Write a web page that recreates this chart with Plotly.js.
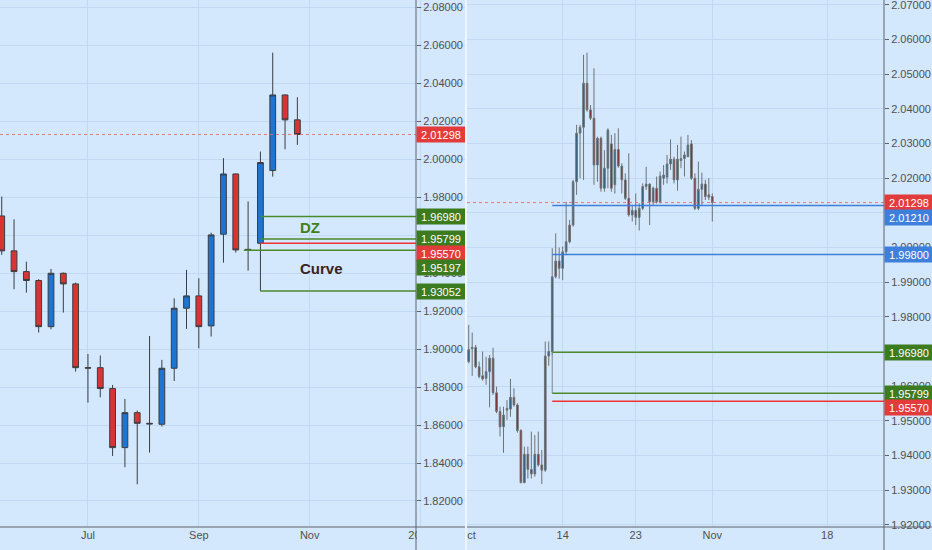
<!DOCTYPE html>
<html>
<head>
<meta charset="UTF-8">
<title>GBPNZD</title>
<script src="https://cdn.plot.ly/plotly-3.0.1.min.js"></script>
<style>
  body { margin: 0; background: #eef5fd; }
  #weekly { position: absolute; left: 0; top: 0; width: 465px; height: 550px; overflow: hidden; }
  #intraday { position: absolute; left: 467px; top: 0; width: 465px; height: 550px; overflow: hidden; }
</style>
</head>
<body>
<div id="weekly"></div>
<div id="intraday"></div>
<script>
// ---- weekly candles (index 0 = week of 13 May 2019)
var wkOpen  = [1.9701, 1.9517, 1.9408, 1.9361, 1.9118, 1.9399, 1.9343, 1.8902, 1.8902, 1.8792, 1.8481, 1.8665, 1.8609,
               1.8604, 1.8899, 1.9215, 1.9280, 1.9122, 1.9605, 1.9922, 1.9525, 1.9557, 1.9940, 2.0338, 2.0207];
var wkHigh  = [1.9803, 1.9683, 1.9460, 1.9368, 1.9422, 1.9403, 1.9350, 1.8974, 1.8966, 1.8811, 1.8737, 1.8676, 1.9069,
               1.8943, 1.9267, 1.9417, 1.9373, 1.9613, 2.0005, 1.9925, 1.9777, 2.0040, 2.0561, 2.0340, 2.0326];
var wkLow   = [1.9496, 1.9315, 1.9297, 1.9087, 1.9104, 1.9192, 1.8881, 1.8718, 1.8746, 1.8437, 1.8378, 1.8288, 1.8455,
               1.8592, 1.8832, 1.9106, 1.9004, 1.9066, 1.9455, 1.9508, 1.9413, 1.9305, 1.9908, 2.0052, 2.0075];
var wkClose = [1.9517, 1.9408, 1.9361, 1.9118, 1.9399, 1.9343, 1.8902, 1.8900, 1.8792, 1.8481, 1.8665, 1.8609, 1.8606,
               1.8899, 1.9215, 1.9280, 1.9118, 1.9601, 1.9922, 1.9522, 1.9520, 1.9982, 2.0338, 2.0207, 2.01298];
var wkTickVals = [7, 16, 25, 34];
var wkTickText = ['Jul', 'Sep', 'Nov', '2020'];

// ---- 8h candles (index 0 = 1 Oct 2019)
var hOpen  = [1.9671, 1.9708, 1.9712, 1.9656, 1.9630, 1.9623, 1.9642, 1.9681, 1.9581, 1.9527, 1.9483, 1.9531,
              1.9534, 1.9568, 1.9546, 1.9472, 1.9322, 1.9404, 1.9360, 1.9347, 1.9404, 1.9373, 1.9358, 1.9687,
              1.9700, 1.9916, 1.9961, 1.9940, 1.9988, 2.0017, 2.0065, 2.0190, 2.0330, 2.0347, 2.0474, 2.0397,
              2.0373, 2.0238, 2.0315, 2.0171, 2.0229, 2.0299, 2.0181, 2.0283, 2.0235, 2.0195, 2.0142, 2.0094,
              2.0107, 2.0087, 2.0113, 2.0176, 2.0183, 2.0132, 2.0171, 2.0132, 2.0200, 2.0203, 2.0241, 2.0255,
              2.0195, 2.0251, 2.0257, 2.0262, 2.0299, 2.0200, 2.0113, 2.0168, 2.0183, 2.0152, 2.0147];
var hHigh  = [1.9777, 1.9755, 1.9719, 1.9671, 1.9700, 1.9685, 1.9690, 1.9711, 1.9599, 1.9541, 1.9541, 1.9560,
              1.9621, 1.9594, 1.9551, 1.9476, 1.9426, 1.9426, 1.9469, 1.9459, 1.9469, 1.9416, 1.9729, 1.9729,
              1.9998, 2.0041, 2.0000, 2.0003, 2.0132, 2.0080, 2.0195, 2.0354, 2.0354, 2.0556, 2.0562, 2.0411,
              2.0517, 2.0320, 2.0320, 2.0281, 2.0344, 2.0325, 2.0330, 2.0344, 2.0243, 2.0214, 2.0272, 2.0123,
              2.0156, 2.0128, 2.0185, 2.0233, 2.0185, 2.0176, 2.0205, 2.0219, 2.0238, 2.0267, 2.0312, 2.0262,
              2.0296, 2.0320, 2.0277, 2.0325, 2.0310, 2.0214, 2.0248, 2.0216, 2.0195, 2.0200, 2.0156];
var hLow   = [1.9666, 1.9630, 1.9652, 1.9623, 1.9616, 1.9604, 1.9539, 1.9575, 1.9522, 1.9455, 1.9408, 1.9503,
              1.9512, 1.9541, 1.9466, 1.9320, 1.9320, 1.9334, 1.9334, 1.9339, 1.9368, 1.9318, 1.9353, 1.9659,
              1.9690, 1.9911, 1.9910, 1.9906, 1.9978, 2.0012, 2.0060, 2.0152, 2.0200, 2.0195, 2.0392, 2.0368,
              2.0181, 2.0190, 2.0161, 2.0161, 2.0171, 2.0161, 2.0156, 2.0230, 2.0156, 2.0137, 2.0089, 2.0075,
              2.0065, 2.0049, 2.0108, 2.0166, 2.0065, 2.0123, 2.0127, 2.0127, 2.0181, 2.0185, 2.0224, 2.0185,
              2.0164, 2.0229, 2.0205, 2.0262, 2.0195, 2.0108, 2.0108, 2.0123, 2.0137, 2.0137, 2.0075];
var hClose = [1.9706, 1.9712, 1.9656, 1.9628, 1.9621, 1.9642, 1.9681, 1.9581, 1.9527, 1.9483, 1.9517, 1.9536,
              1.9568, 1.9546, 1.9472, 1.9322, 1.9404, 1.9360, 1.9347, 1.9404, 1.9373, 1.9358, 1.9687, 1.9700,
              1.9916, 1.9961, 1.9940, 1.9988, 2.0017, 2.0065, 2.0190, 2.0330, 2.0347, 2.0474, 2.0397, 2.0373,
              2.0238, 2.0315, 2.0171, 2.0229, 2.0339, 2.0171, 2.0283, 2.0235, 2.0195, 2.0142, 2.0094, 2.0107,
              2.0087, 2.0113, 2.0176, 2.0183, 2.0132, 2.0171, 2.0132, 2.0206, 2.0209, 2.0241, 2.0255, 2.0195,
              2.0255, 2.0257, 2.0267, 2.0296, 2.0200, 2.0113, 2.0168, 2.0183, 2.0147, 2.0145, 2.01298];
var hTickVals = [-0.45, 27, 48, 70, 103];
var hTickText = ['Oct', '14', '23', 'Nov', '18'];

// ---- drawn levels
var lastPrice = 2.01298;
var zoneLevels = [1.96980, 1.95799];   // DZ
var entryLevel = 1.95570;
var curveLevels = [1.95197, 1.93052];  // Curve
var blueLevels = [2.01210, 1.99800];

var bg = '#d4e8fd';
var grid = '#c2d9f3';
var axisLine = '#5f6368';
var cRed = '#e23b3b', cGreen = '#3c7b1f', cBlue = '#3f7fdc';
var lineRed = '#f03232', lineGreen = '#4c8a2c', lineBlue = '#3f7fdc';
var tickFont = { family: 'Liberation Sans, Arial, sans-serif', size: 11, color: '#505050' };
var plotH = 527;

// price-scale badges, pushed apart so they do not overlap
function badges(levels, yr, xEdge) {
    var out = [], prev = -1e9;
    levels.slice().sort((a, b) => b.p - a.p).forEach(function (lv) {
        var px = (yr[1] - lv.p) / (yr[1] - yr[0]) * plotH;
        var want = Math.max(px, prev + 14.5);
        prev = want;
        out.push({
            xref: 'paper', x: xEdge, xanchor: 'left',
            yref: 'y', y: lv.p, yanchor: 'middle', yshift: px - want,
            text: lv.p.toFixed(5), showarrow: false,
            bgcolor: lv.c, width: 44, height: 11, borderpad: 2,
            font: { family: tickFont.family, size: 11, color: '#ffffff' }
        });
    });
    return out;
}

function hline(x0, x1, y, color, dash) {
    return { type: 'line', xref: 'x', yref: 'y', x0: x0, x1: x1, y0: y, y1: y,
             line: { color: color, width: dash ? 1 : 1.5, dash: dash || 'solid' }, layer: 'above' };
}

function frame(xEdge) {
    return [
        { type: 'line', xref: 'paper', yref: 'paper', x0: xEdge, x1: xEdge, y0: -0.06, y1: 1,
          line: { color: axisLine, width: 1 }, layer: 'above' },
        { type: 'line', xref: 'paper', yref: 'paper', x0: 0, x1: 1, y0: 0, y1: 0,
          line: { color: axisLine, width: 1 }, layer: 'above' }
    ];
}

// ---- weekly chart: the x axis runs under the price scale, so the 2020 label is cut like the original
var wkX = wkOpen.map((_, i) => i);
var wkEdge = 416 / 465;
var wkXR = [-0.14, 33.63];
var wkYR = [1.8063, 2.0838];
var wkYTicks = [];
for (var v = 1.82; v < 2.081; v += 0.02) wkYTicks.push(+v.toFixed(2));

var wkTraces = [{
    type: 'candlestick', x: wkX, open: wkOpen, high: wkHigh, low: wkLow, close: wkClose,
    increasing: { fillcolor: '#1e74d3', line: { color: '#3a3d42', width: 1 } },
    decreasing: { fillcolor: '#d93434', line: { color: '#3a3d42', width: 1 } },
    hoverinfo: 'skip', showlegend: false
}];

var wkShapes = [
    // price scale area: hides the grid behind the labels
    { type: 'rect', xref: 'paper', yref: 'paper', x0: wkEdge, x1: 1, y0: 0, y1: 1,
      fillcolor: bg, line: { width: 0 }, layer: 'between' },
    // cuts the date label under the price scale
    { type: 'rect', xref: 'paper', yref: 'paper', x0: 417 / 465, x1: 1, y0: -0.06, y1: -0.002,
      fillcolor: bg, line: { width: 0 }, layer: 'above' }
];
wkShapes.push(hline(wkXR[0], wkXR[1], lastPrice, 'rgba(226,110,110,0.9)', 'dot'));
wkShapes.push(hline(21, wkXR[1], zoneLevels[0], lineGreen));
wkShapes.push(hline(21, wkXR[1], zoneLevels[1], lineGreen));
wkShapes.push(hline(21, wkXR[1], entryLevel, lineRed));
wkShapes.push(hline(20 - 0.35, wkXR[1], curveLevels[0], lineGreen));
wkShapes.push(hline(21, wkXR[1], curveLevels[1], lineGreen));
wkShapes = wkShapes.concat(frame(wkEdge));

var wkAnn = badges([
    { p: lastPrice, c: cRed }, { p: zoneLevels[0], c: cGreen }, { p: zoneLevels[1], c: cGreen },
    { p: entryLevel, c: cRed }, { p: curveLevels[0], c: cGreen }, { p: curveLevels[1], c: cGreen }
], wkYR, wkEdge);
wkAnn.push({ xref: 'x', yref: 'y', x: 24.05, xanchor: 'left', y: (zoneLevels[0] + zoneLevels[1]) / 2,
    text: '<b>DZ</b>', showarrow: false, font: { family: tickFont.family, size: 15, color: '#3f7f1f' } });
wkAnn.push({ xref: 'x', yref: 'y', x: 24.05, xanchor: 'left', y: 1.9422,
    text: '<b>Curve</b>', showarrow: false, font: { family: tickFont.family, size: 15, color: '#3a2222' } });

var wkLayout = {
    width: 465, height: 550,
    margin: { l: 0, r: 0, t: 0, b: 23 },
    paper_bgcolor: bg, plot_bgcolor: bg,
    boxgap: 0.33, hovermode: false, dragmode: false,
    font: tickFont,
    xaxis: {
        domain: [0, 1], range: [wkXR[0], wkXR[0] + (wkXR[1] - wkXR[0]) / wkEdge],
        rangeslider: { visible: false },
        tickvals: wkTickVals, ticktext: wkTickText, ticks: '', tickfont: tickFont,
        ticklabeloverflow: 'allow',
        showgrid: true, gridcolor: grid, zeroline: false, showline: false
    },
    yaxis: {
        range: wkYR, side: 'right', anchor: 'free', position: wkEdge,
        tickvals: wkYTicks, tickformat: '.5f',
        ticks: 'outside', ticklen: 4, tickcolor: axisLine, tickfont: tickFont, ticklabeloverflow: 'allow',
        showgrid: true, gridcolor: grid, zeroline: false, showline: false
    },
    shapes: wkShapes,
    annotations: wkAnn
};

Plotly.newPlot('weekly', wkTraces, wkLayout, { displayModeBar: false, staticPlot: true });

// ---- 8h chart
var hX = hOpen.map((_, i) => i);
var hEdge = 417 / 465;
var hXR = [-0.49, 119.34];
var hYR = [1.9194, 2.0714];
var hYTicks = [];
for (var v = 1.92; v < 2.0705; v += 0.01) hYTicks.push(+v.toFixed(2));

var hTraces = [{
    type: 'candlestick', x: hX, open: hOpen, high: hHigh, low: hLow, close: hClose,
    increasing: { fillcolor: '#1f5f80', line: { color: '#6e7378', width: 1 } },
    decreasing: { fillcolor: '#8c1c1c', line: { color: '#6e7378', width: 1 } },
    hoverinfo: 'skip', showlegend: false
}];

var hStart = 24;
var hShapes = [];
hShapes.push(hline(hXR[0], hXR[1], lastPrice, 'rgba(226,110,110,0.9)', 'dot'));
hShapes.push(hline(hStart, hXR[1], blueLevels[0], lineBlue));
hShapes.push(hline(hStart, hXR[1], blueLevels[1], lineBlue));
hShapes.push(hline(hStart, hXR[1], zoneLevels[0], lineGreen));
hShapes.push(hline(hStart, hXR[1], zoneLevels[1], lineGreen));
hShapes.push(hline(hStart, hXR[1], entryLevel, lineRed));
hShapes.push({ type: 'line', xref: 'x', yref: 'y', x0: hStart, x1: hStart, y0: zoneLevels[1], y1: zoneLevels[0],
               line: { color: '#7d8a80', width: 1 }, layer: 'above' });
hShapes = hShapes.concat(frame(hEdge));

var hAnn = badges([
    { p: lastPrice, c: cRed }, { p: blueLevels[0], c: cBlue }, { p: blueLevels[1], c: cBlue },
    { p: zoneLevels[0], c: cGreen }, { p: zoneLevels[1], c: cGreen }, { p: entryLevel, c: cRed }
], hYR, hEdge);

var hLayout = {
    width: 465, height: 550,
    margin: { l: 0, r: 0, t: 0, b: 23 },
    paper_bgcolor: bg, plot_bgcolor: bg,
    boxgap: 0.33, hovermode: false, dragmode: false,
    font: tickFont,
    xaxis: {
        domain: [0, hEdge], range: hXR, rangeslider: { visible: false },
        tickvals: hTickVals, ticktext: hTickText, ticks: '', tickfont: tickFont,
        ticklabeloverflow: 'allow',
        showgrid: true, gridcolor: grid, zeroline: false, showline: false
    },
    yaxis: {
        range: hYR, side: 'right', anchor: 'x', tickvals: hYTicks, tickformat: '.5f',
        ticks: 'outside', ticklen: 4, tickcolor: axisLine, tickfont: tickFont, ticklabeloverflow: 'allow',
        showgrid: true, gridcolor: grid, zeroline: false, showline: false
    },
    shapes: hShapes,
    annotations: hAnn
};

Plotly.newPlot('intraday', hTraces, hLayout, { displayModeBar: false, staticPlot: true });
</script>
</body>
</html>
